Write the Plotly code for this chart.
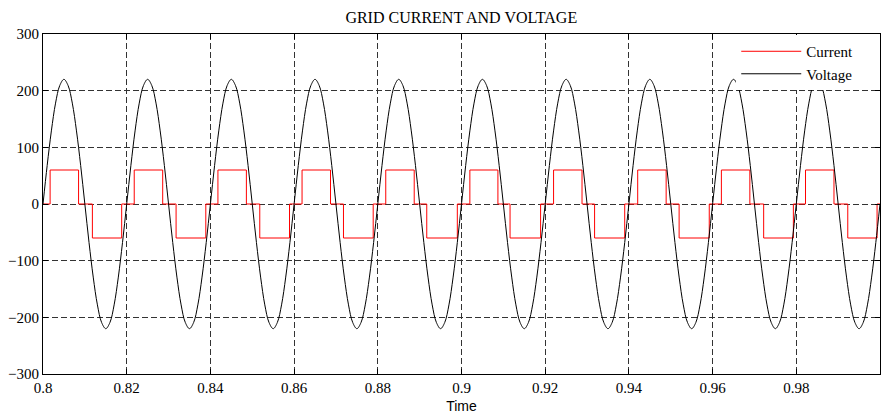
import plotly.graph_objects as go

# ---- data ----
time_start = 0.8
time_step = 0.001

voltage = [
    0, 68, 129, 178, 209, 220, 209, 178, 129, 68, 0, -68, -129, -178, -209, -220, -209, -178, -129, -68,
    0, 68, 129, 178, 209, 220, 209, 178, 129, 68, 0, -68, -129, -178, -209, -220, -209, -178, -129, -68,
    0, 68, 129, 178, 209, 220, 209, 178, 129, 68, 0, -68, -129, -178, -209, -220, -209, -178, -129, -68,
    0, 68, 129, 178, 209, 220, 209, 178, 129, 68, 0, -68, -129, -178, -209, -220, -209, -178, -129, -68,
    0, 68, 129, 178, 209, 220, 209, 178, 129, 68, 0, -68, -129, -178, -209, -220, -209, -178, -129, -68,
    0, 68, 129, 178, 209, 220, 209, 178, 129, 68, 0, -68, -129, -178, -209, -220, -209, -178, -129, -68,
    0, 68, 129, 178, 209, 220, 209, 178, 129, 68, 0, -68, -129, -178, -209, -220, -209, -178, -129, -68,
    0, 68, 129, 178, 209, 220, 209, 178, 129, 68, 0, -68, -129, -178, -209, -220, -209, -178, -129, -68,
    0, 68, 129, 178, 209, 220, 209, 178, 129, 68, 0, -68, -129, -178, -209, -220, -209, -178, -129, -68,
    0, 68, 129, 178, 209, 220, 209, 178, 129, 68, 0, -68, -129, -178, -209, -220, -209, -178, -129, -68,
    0,
]

current_time = [
    0.8000,
    0.8017, 0.8085, 0.8118, 0.8188,
    0.8218, 0.8286, 0.8318, 0.8389,
    0.8418, 0.8486, 0.8518, 0.8589,
    0.8619, 0.8687, 0.8718, 0.8789,
    0.8819, 0.8887, 0.8917, 0.8990,
    0.9020, 0.9087, 0.9116, 0.9189,
    0.9220, 0.9288, 0.9318, 0.9390,
    0.9421, 0.9489, 0.9520, 0.9592,
    0.9621, 0.9689, 0.9722, 0.9793,
    0.9822, 0.9890, 0.9923, 0.9993,
    1.0000,
]
current_level = [
    0,
    60, 0, -60, 0,
    60, 0, -60, 0,
    60, 0, -60, 0,
    60, 0, -60, 0,
    60, 0, -60, 0,
    60, 0, -60, 0,
    60, 0, -60, 0,
    60, 0, -60, 0,
    60, 0, -60, 0,
    60, 0, -60, 0,
    0,
]

x_ticks = [0.8, 0.82, 0.84, 0.86, 0.88, 0.9, 0.92, 0.94, 0.96, 0.98]
x_tick_text = ["0.8", "0.82", "0.84", "0.86", "0.88", "0.9", "0.92", "0.94", "0.96", "0.98"]
y_ticks = [-300, -200, -100, 0, 100, 200, 300]

SERIF = "Liberation Serif, Times New Roman, serif"
SANS = "Liberation Sans, Arial, sans-serif"

fig = go.Figure()
fig.add_trace(go.Scatter(
    x=current_time, y=current_level, mode="lines", name="Current",
    line=dict(color="#ff0000", width=1, shape="hv"),
))
fig.add_trace(go.Scatter(
    y=voltage, x0=time_start, dx=time_step, mode="lines", name="Voltage",
    line=dict(color="#000000", width=1, shape="spline"),
))

axis_common = dict(
    showline=True, linecolor="black", linewidth=1, mirror="ticks",
    ticks="inside", ticklen=5, tickcolor="black",
    showgrid=True, gridcolor="#333333", gridwidth=1, griddash="6px,3px",
    zeroline=False,
    tickfont=dict(family=SERIF, size=15, color="black"),
)

fig.update_layout(
    width=881, height=417,
    margin=dict(l=43, r=1, t=34, b=43),
    paper_bgcolor="white", plot_bgcolor="white",
    title=dict(text="GRID CURRENT AND VOLTAGE", x=0.5236, xanchor="center",
               y=0.958, yanchor="middle",
               font=dict(family=SERIF, size=16, color="black")),
    xaxis=dict(range=[0.8, 1.0], tickvals=x_ticks, ticktext=x_tick_text,
               title=dict(text="Time", font=dict(family=SANS, size=14, color="black"), standoff=6),
               **axis_common),
    yaxis=dict(range=[-300, 300], tickvals=y_ticks, **axis_common),
    legend=dict(x=0.974, xanchor="right", y=0.997, yanchor="top", bgcolor="white",
                borderwidth=0, font=dict(family=SERIF, size=15, color="black"),
                itemwidth=60, tracegroupgap=0),
    showlegend=True,
)

fig.write_html("out.html", post_script="document.body.style.margin='0px';",
               config={"displayModeBar": False})
